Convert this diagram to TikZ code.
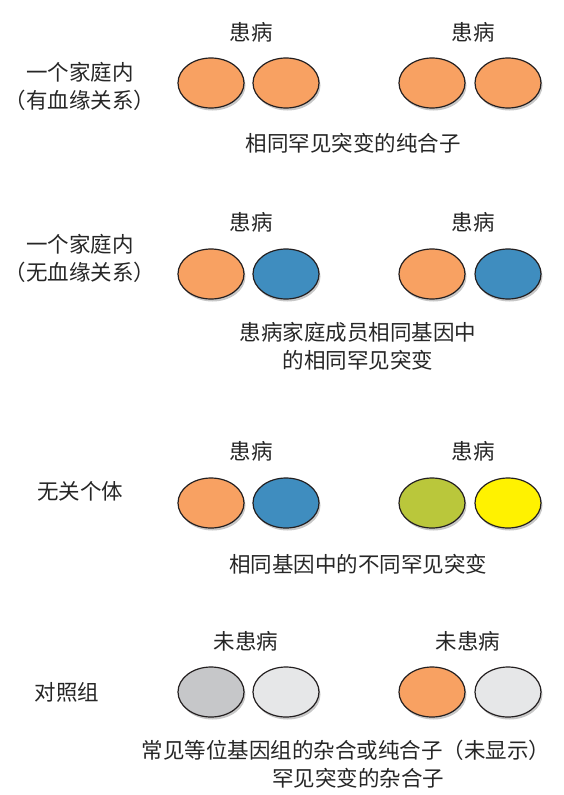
\documentclass[tikz,border=0pt]{standalone}
\usepackage{fontspec}
\newfontfamily\cjk{Noto Sans CJK SC}
\usetikzlibrary{shapes.geometric, shadows}
\definecolor{mutorange}{HTML}{F8A162}
\definecolor{mutblue}{HTML}{3F8DBF}
\definecolor{mutgreen}{HTML}{BAC73B}
\definecolor{mutyellow}{HTML}{FFF200}
\definecolor{refgray}{HTML}{C6C7C9}
\definecolor{reflight}{HTML}{E6E7E8}
\definecolor{outline}{HTML}{231F20}

\begin{document}
\begin{tikzpicture}[
    x=1pt, y=-1pt,
    font=\cjk\fontsize{21.5}{28}\selectfont,
    allele/.style={ellipse, draw=outline, fill=#1, line width=1.2pt, minimum width=66pt, minimum height=50pt, inner sep=0pt,
        drop shadow={shadow xshift=1.5pt, shadow yshift=-2.5pt, opacity=0.22, fill=black}},
    rowlabel/.style={align=center, text=black!85},
    status/.style={text=black!85},
    caption/.style={align=center, text=black!85}
]
    \useasboundingbox (0,0) rectangle (564,795);

    % --- ROW 1: one family, related ---
    \node[rowlabel] (r1_lbl) at (80, 86) {一个家庭内\\（有血缘关系）};
    \node[status] (r1_st1) at (251, 32) {患病};
    \node[status] (r1_st2) at (473, 32) {患病};
    \node[allele=mutorange] (r1_a) at (211, 83) {};
    \node[allele=mutorange] (r1_b) at (286, 83) {};
    \node[allele=mutorange] (r1_c) at (432, 83) {};
    \node[allele=mutorange] (r1_d) at (508, 83) {};
    \node[caption] (r1_cap) at (353, 143) {相同罕见突变的纯合子};

    % --- ROW 2: one family, unrelated ---
    \node[rowlabel] (r2_lbl) at (80, 258) {一个家庭内\\（无血缘关系）};
    \node[status] (r2_st1) at (251, 222) {患病};
    \node[status] (r2_st2) at (473, 222) {患病};
    \node[allele=mutorange] (r2_a) at (211, 274) {};
    \node[allele=mutblue] (r2_b) at (286, 274) {};
    \node[allele=mutorange] (r2_c) at (432, 274) {};
    \node[allele=mutblue] (r2_d) at (508, 274) {};
    \node[caption] (r2_cap) at (358, 346) {患病家庭成员相同基因中\\的相同罕见突变};

    % --- ROW 3: unrelated individuals ---
    \node[rowlabel] (r3_lbl) at (80, 491) {无关个体};
    \node[status] (r3_st1) at (251, 451) {患病};
    \node[status] (r3_st2) at (473, 451) {患病};
    \node[allele=mutorange] (r3_a) at (211, 503) {};
    \node[allele=mutblue] (r3_b) at (286, 503) {};
    \node[allele=mutgreen] (r3_c) at (432, 503) {};
    \node[allele=mutyellow] (r3_d) at (508, 503) {};
    \node[caption] (r3_cap) at (358, 564) {相同基因中的不同罕见突变};

    % --- ROW 4: controls ---
    \node[rowlabel] (r4_lbl) at (67, 692) {对照组};
    \node[status] (r4_st1) at (246, 641) {未患病};
    \node[status] (r4_st2) at (468, 641) {未患病};
    \node[allele=refgray] (r4_a) at (211, 692) {};
    \node[allele=reflight] (r4_b) at (286, 692) {};
    \node[allele=mutorange] (r4_c) at (432, 692) {};
    \node[allele=reflight] (r4_d) at (508, 692) {};
    \node[caption] (r4_cap1) at (346, 750) {常见等位基因组的杂合或纯合子（未显示）};
    \node[caption] (r4_cap2) at (358, 778) {罕见突变的杂合子};

\end{tikzpicture}
\end{document}
